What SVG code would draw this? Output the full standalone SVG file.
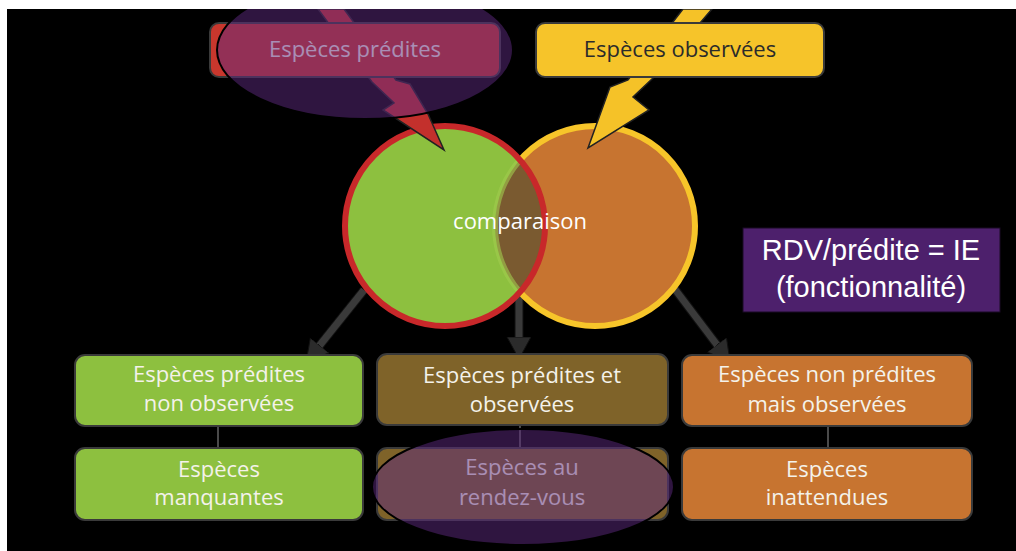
<svg xmlns="http://www.w3.org/2000/svg" width="1016" height="551" viewBox="0 0 1016 551">
<style>
.t{font-family:"Open Sans","Liberation Sans",sans-serif;font-size:22px;fill:#f4f2ea;text-anchor:middle}
.box{stroke:#3a3a3a;stroke-width:2}
.link{stroke:#4a4a4a;stroke-width:2;fill:none}
.shaft{stroke:#3a3a3a;stroke-width:7;fill:none}
.shaftbg{stroke:#111;stroke-width:9;fill:none}
.hl{fill:#5e2a80;fill-opacity:0.5;stroke:#000;stroke-width:2}
.rdv{font-family:"Liberation Sans",Arial,sans-serif;font-size:29px;fill:#fff;text-anchor:middle}
</style>
<defs>
<clipPath id="frame"><rect x="7" y="9" width="1009" height="542"/></clipPath>
<clipPath id="cB"><circle cx="595" cy="226" r="100"/></clipPath>
<clipPath id="cA"><circle cx="445" cy="226" r="100"/></clipPath>
<marker id="ah" markerUnits="userSpaceOnUse" markerWidth="26" markerHeight="26" refX="6" refY="12" orient="auto">
<path d="M0,0 L22,12 L0,24 z" fill="#2b2b2b" stroke="#111" stroke-width="1"/>
</marker>
</defs>
<rect width="1016" height="551" fill="#fff"/>
<g clip-path="url(#frame)">
<rect x="7" y="9" width="1009" height="542" fill="#000"/>

<g id="connectors">
<path class="shaftbg" d="M364,290 L316,350"/>
<path class="shaft" d="M364,290 L316,350" marker-end="url(#ah)"/>
<path class="shaftbg" d="M519,296 L519,343"/>
<path class="shaft" d="M519,296 L519,343" marker-end="url(#ah)"/>
<path class="shaftbg" d="M674,288 L720.5,349.5"/>
<path class="shaft" d="M674,288 L720.5,349.5" marker-end="url(#ah)"/>
<line class="link" x1="218" y1="427" x2="218" y2="448"/>
<line class="link" x1="520" y1="426" x2="520" y2="448"/>
<line class="link" x1="828" y1="427" x2="828" y2="448"/>
</g>

<g id="comparaison">
<circle cx="595" cy="226" r="100" fill="#c77430" stroke="#f7c52a" stroke-width="6"/>
<circle cx="445" cy="226" r="100" fill="#8dc03f"/>
<circle cx="445" cy="226" r="100" fill="#7a5a30" clip-path="url(#cB)"/>
<circle cx="595" cy="226" r="100" fill="none" stroke="#a2cc4e" stroke-opacity="0.6" stroke-width="6" clip-path="url(#cA)"/>
<circle cx="445" cy="226" r="100" fill="none" stroke="#c8282a" stroke-width="6"/>
<text class="t" x="520" y="229" style="fill:#fff">comparaison</text>
</g>

<g id="arrow-predites">
<polygon points="318,9 344,9 396,80 410,84 428,114 444,150 383,110 394,103 372,82" fill="#c3302c" stroke="#222" stroke-width="1.5"/>
</g>
<g id="arrow-observees">
<polygon points="683,9 712,9 653,78 633,97 649,110 588,148 610,87 628,80" fill="#f5c228" stroke="#222" stroke-width="1.5"/>
</g>

<g id="especes-predites">
<rect class="box" x="210" y="23" width="290" height="54" rx="9" fill="#c8372d"/>
<text class="t" x="355" y="57">Espèces prédites</text>
</g>
<g id="especes-observees">
<rect class="box" x="536" y="23" width="288" height="54" rx="9" fill="#f6c42a"/>
<text class="t" x="680" y="57" style="fill:#2b2b2b">Espèces observées</text>
</g>

<g id="predites-non-observees">
<rect class="box" x="75" y="355" width="288" height="71" rx="10" fill="#8dc03f"/>
<text class="t" x="219" y="382">Espèces prédites</text>
<text class="t" x="219" y="411">non observées</text>
</g>
<g id="especes-manquantes">
<rect class="box" x="75" y="448" width="288" height="72" rx="10" fill="#8dc03f"/>
<text class="t" x="219" y="477">Espèces</text>
<text class="t" x="219" y="505">manquantes</text>
</g>
<g id="predites-et-observees">
<rect class="box" x="377" y="354" width="291" height="71" rx="10" fill="#7f6329"/>
<text class="t" x="522" y="383">Espèces prédites et</text>
<text class="t" x="522" y="412">observées</text>
</g>
<g id="especes-rdv">
<rect class="box" x="377" y="448" width="291" height="72" rx="10" fill="#7f6329"/>
<text class="t" x="522" y="475">Espèces au</text>
<text class="t" x="522" y="505">rendez-vous</text>
</g>
<g id="non-predites-observees">
<rect class="box" x="682" y="355" width="290" height="71" rx="10" fill="#c77430"/>
<text class="t" x="827" y="382">Espèces non prédites</text>
<text class="t" x="827" y="412">mais observées</text>
</g>
<g id="especes-inattendues">
<rect class="box" x="682" y="448" width="290" height="72" rx="10" fill="#c77430"/>
<text class="t" x="827" y="477">Espèces</text>
<text class="t" x="827" y="505">inattendues</text>
</g>

<g id="highlights">
<ellipse class="hl" cx="365" cy="50" rx="148" ry="69"/>
<ellipse class="hl" cx="523" cy="487" rx="151" ry="58"/>
</g>

<g id="rdv-ie">
<rect x="743" y="228" width="257" height="84" fill="#4d206c" stroke="#1a0a24" stroke-width="1"/>
<text class="rdv" x="871" y="260">RDV/prédite = IE</text>
<text class="rdv" x="871" y="297">(fonctionnalité)</text>
</g>
</g>
</svg>
